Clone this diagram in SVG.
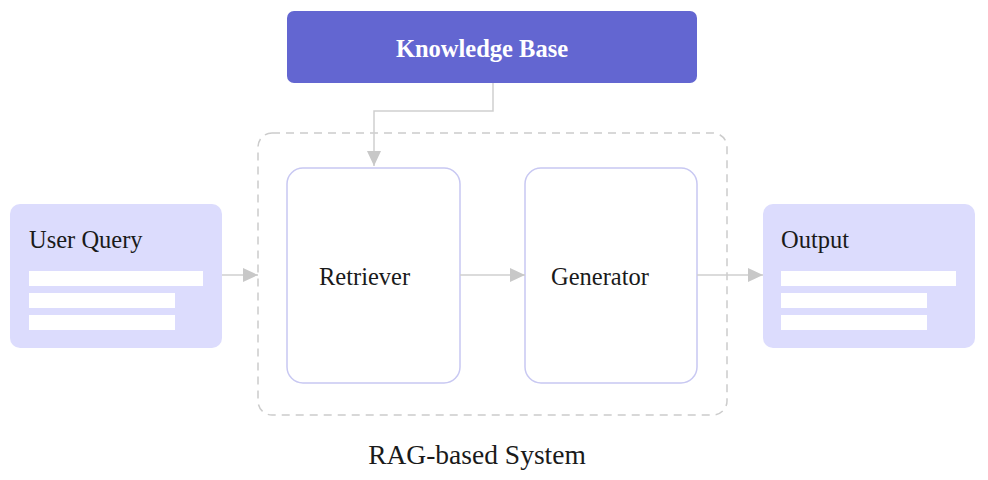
<svg xmlns="http://www.w3.org/2000/svg" width="988" height="480" viewBox="0 0 988 480">
<style>
.t{font-family:"Liberation Serif","Times New Roman",serif;fill:#1a1a1a}
.io{fill:#dcdcfd}
.bar{fill:#ffffff}
.inner{fill:#ffffff;stroke:#c8c8f2;stroke-width:1.5}
.conn{fill:none;stroke:#cfcfcf;stroke-width:1.5}
</style>
<defs>
<marker id="ah" markerWidth="16" markerHeight="16" viewBox="0 0 16 16" refX="15" refY="8" orient="auto" markerUnits="userSpaceOnUse">
<path d="M0,1 L15,8 L0,15 Z" fill="#c8c8c8"/>
</marker>
</defs>
<rect width="988" height="480" fill="#ffffff"/>
<g id="container">
<rect x="258" y="133" width="469" height="282" rx="14" fill="none" stroke="#cccccc" stroke-width="1.5" stroke-dasharray="8,6"/>
<text class="t" x="477" y="464" font-size="27.5" text-anchor="middle">RAG-based System</text>
</g>
<g id="knowledge-base">
<rect x="287" y="11" width="410" height="72" rx="7" fill="#6366d1"/>
<text class="t" x="482" y="57" font-size="24.5" font-weight="bold" style="fill:#ffffff" text-anchor="middle">Knowledge Base</text>
</g>
<g id="user-query">
<rect class="io" x="10" y="204" width="212" height="144" rx="10"/>
<text class="t" x="29" y="248" font-size="24.5">User Query</text>
<rect class="bar" x="29" y="271" width="174" height="15"/>
<rect class="bar" x="29" y="293" width="146" height="15"/>
<rect class="bar" x="29" y="315" width="146" height="15"/>
</g>
<g id="retriever">
<rect class="inner" x="287" y="168" width="173" height="215" rx="16"/>
<text class="t" x="319" y="285" font-size="24.5">Retriever</text>
</g>
<g id="generator">
<rect class="inner" x="525" y="168" width="172" height="215" rx="16"/>
<text class="t" x="551" y="285" font-size="24.5">Generator</text>
</g>
<g id="output">
<rect class="io" x="763" y="204" width="212" height="144" rx="10"/>
<text class="t" x="781" y="248" font-size="24.5">Output</text>
<rect class="bar" x="781" y="271" width="175" height="15"/>
<rect class="bar" x="781" y="293" width="146" height="15"/>
<rect class="bar" x="781" y="315" width="146" height="15"/>
</g>
<g id="connectors">
<path class="conn" d="M493,83 V111 H374 V166" marker-end="url(#ah)"/>
<path class="conn" d="M222,275 H258" marker-end="url(#ah)"/>
<path class="conn" d="M460,275 H525" marker-end="url(#ah)"/>
<path class="conn" d="M697,275 H763" marker-end="url(#ah)"/>
</g>
</svg>
